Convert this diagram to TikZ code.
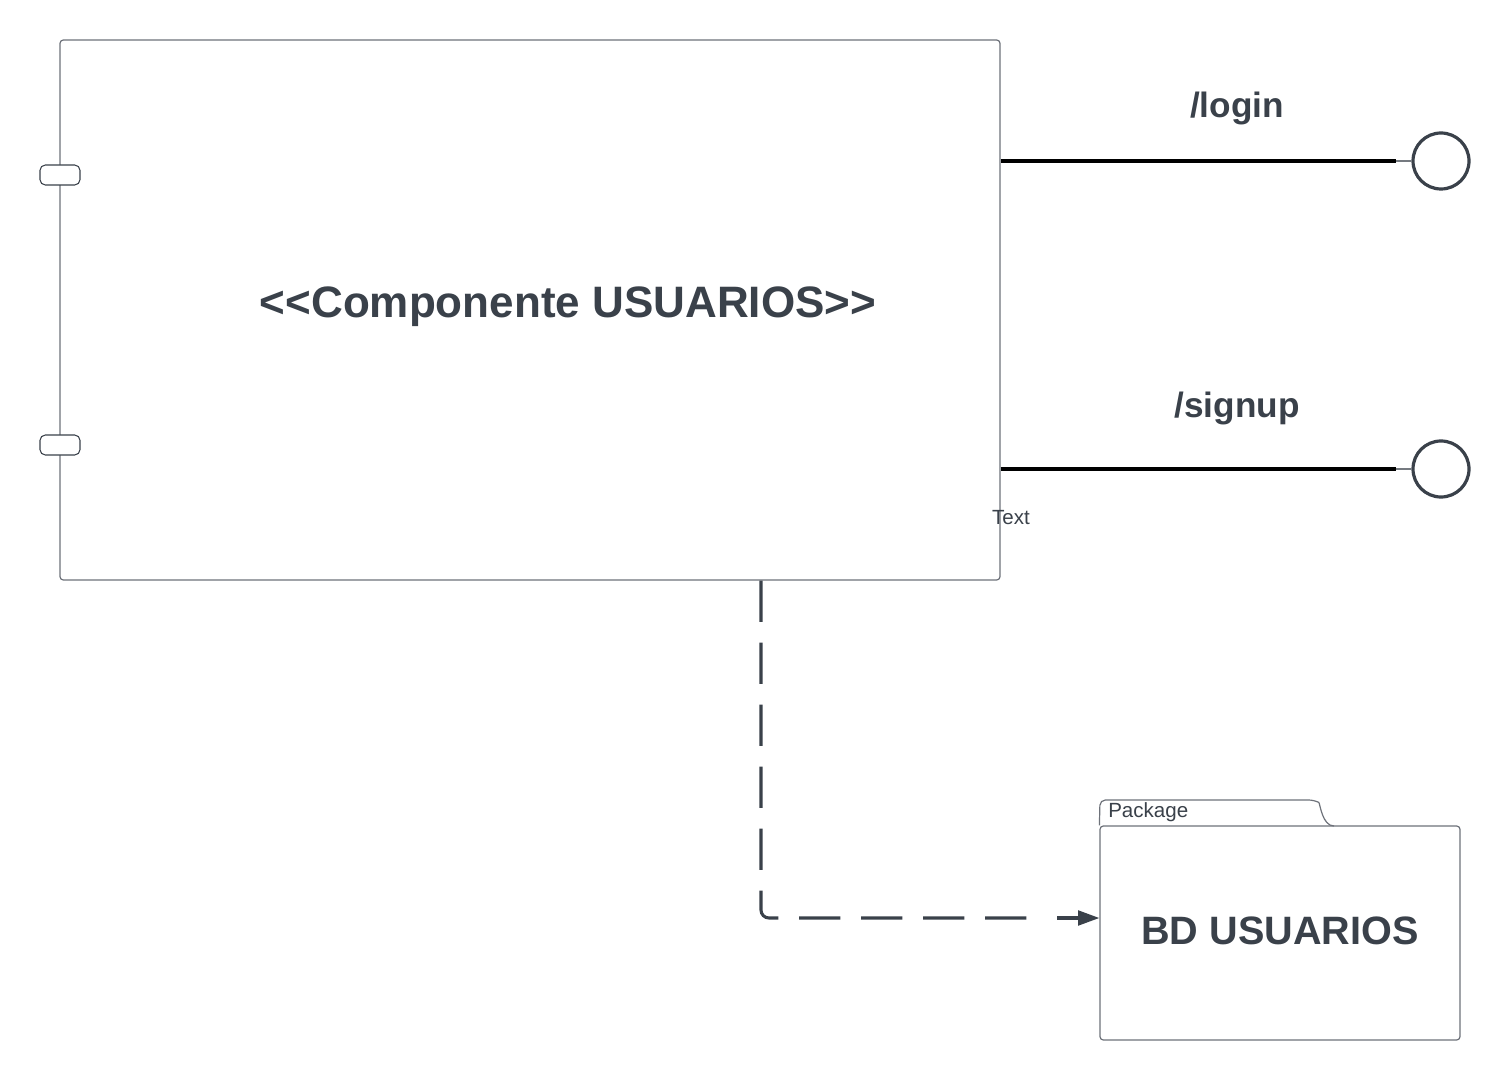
\documentclass[tikz,border=0pt]{standalone}
\usepackage{fontspec}
\setmainfont{Liberation Sans}
\usetikzlibrary{arrows.meta}
\definecolor{ink}{HTML}{3A414A}
\definecolor{edge}{HTML}{6E727A}
\tikzset{
  compbox/.style={draw=edge, line width=0.9pt, rounded corners=2.5pt, minimum width=705pt, minimum height=405pt, inner sep=0pt},
  portbox/.style={draw=ink, line width=0.8pt, fill=white, rounded corners=4pt, minimum width=30pt, minimum height=15pt, inner sep=0pt},
  iface/.style={draw=ink, line width=2.4pt, circle, minimum size=42pt, inner sep=0pt},
  iline/.style={draw=black, line width=2.4pt},
  ilinek/.style={draw=ink!70, line width=1.6pt},
  lbl/.style={text=ink, font=\bfseries\fontsize{26.4}{30}\selectfont, inner sep=0pt},
  dep/.style={draw=ink, line width=2.3pt, dash pattern=on 31pt off 15.5pt, rounded corners=6pt},
  small/.style={text=ink, font=\fontsize{15.4}{18}\selectfont, inner sep=0pt},
}
\begin{document}
\begin{tikzpicture}[x=0.75pt, y=-0.75pt]
\useasboundingbox[fill=white] (0,0) rectangle (1510,1080);
% component
\node[compbox] (comp) at (530,310) {};
\node[portbox] (p1) at (60,175) {};
\node[portbox] (p2) at (60,445) {};
\node[text=ink, font=\bfseries\fontsize{33}{38}\selectfont, inner sep=0pt] (title) at (568,307) {<\kern0pt<Componente USUARIOS>\kern0pt>};
\node[small, anchor=center] (txt) at (1011,518) {Text};
% interfaces
\node[iface] (login) at (1441,161) {};
\node[iface] (signup) at (1441,469) {};
\coordinate (lj) at ([xshift=-11.25pt]login.west);
\coordinate (sj) at ([xshift=-11.25pt]signup.west);
\draw[iline] (comp.east |- login) -- (lj);
\draw[ilinek] (lj) -- (login.west);
\draw[iline] (comp.east |- signup) -- (sj);
\draw[ilinek] (sj) -- (signup.west);
\node[lbl] (loginl) at (1237,108) {/login};
\node[lbl] (signupl) at (1237,408) {/signup};
% package
\node[draw=edge, line width=0.9pt, rounded corners=2.5pt, minimum width=270pt, minimum height=160.5pt, inner sep=0pt] (pkg) at (1280,933) {};
\draw[edge, line width=0.9pt, rounded corners=4] (pkg.north west) -- (1100,800) -- (1314,800) .. controls (1320,803) and (1322,826) .. (1334,826);
\node[small, anchor=west] (pkgl) at (1108,812) {Package};
\node[text=ink, font=\bfseries\fontsize{29.7}{34}\selectfont, inner sep=0pt] (pkgt) at (1280,931) {BD USUARIOS};
% dependency
\coordinate (bend) at (761,918);
\coordinate (dashend) at (1036,918);
\coordinate (tipstart) at (1057,918);
\draw[dep] (comp.south -| bend) -- (bend) -- (dashend);
\draw[ink, line width=2.3pt, -{Triangle[length=16pt,width=11pt]}] (tipstart) -- (pkg.west |- bend);
\end{tikzpicture}
\end{document}
